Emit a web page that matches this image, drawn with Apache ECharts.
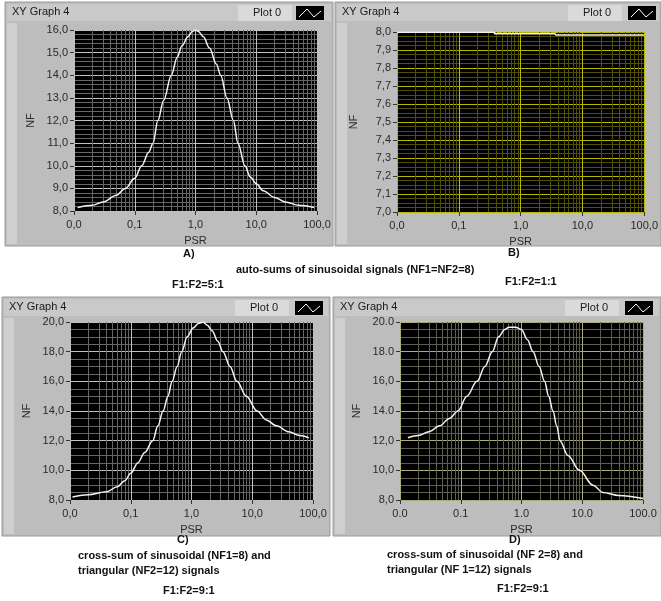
<!DOCTYPE html>
<html>
<head>
<meta charset="utf-8">
<script src="https://cdn.jsdelivr.net/npm/echarts@6/dist/echarts.min.js"></script>
<style>
  html, body { margin: 0; background: #fff; }
  #chart { width: 661px; height: 601px; }
</style>
</head>
<body>
<div id="chart"></div>
<script>
// ---- data ----
// A) auto-sum, F1:F2=5:1
const psrA = [0.0115, 0.02, 0.03, 0.05, 0.07, 0.1, 0.13, 0.17, 0.2, 0.24, 0.3, 0.4, 0.5, 0.6, 0.75, 0.9, 1.0, 1.1, 1.35, 1.7, 2.2, 2.6, 3.3, 4.2, 5.0, 6.5, 8.0, 10, 13, 20, 30, 50, 90]
const nfA = [8.15, 8.25, 8.4, 8.7, 9.0, 9.45, 10.0, 10.6, 11.0, 12.0, 12.9, 14.0, 14.8, 15.3, 15.7, 15.95, 16.0, 15.95, 15.7, 15.2, 14.5, 14.0, 13.0, 12.0, 11.0, 10.0, 9.5, 9.2, 8.9, 8.6, 8.4, 8.25, 8.15]
// B) auto-sum, F1:F2=1:1
const psrB = [0.01, 0.37, 0.38, 3.6, 3.7, 100]
const nfB = [7.998, 7.998, 7.99, 7.99, 7.984, 7.984]
// C) cross-sum, F1:F2=9:1
const psrC = [0.011, 0.02, 0.04, 0.06, 0.08, 0.1, 0.13, 0.17, 0.23, 0.28, 0.34, 0.41, 0.48, 0.58, 0.69, 0.85, 1.06, 1.3, 1.55, 1.8, 2.2, 2.7, 3.3, 4.3, 5.6, 8.0, 12, 17, 25, 40, 60, 85]
const nfC = [8.2, 8.35, 8.55, 8.9, 9.3, 9.8, 10.5, 11.2, 12.0, 13.0, 14.0, 15.0, 16.0, 17.0, 18.0, 19.0, 19.6, 19.9, 20.0, 19.8, 19.4, 18.7, 18.0, 17.0, 16.0, 15.0, 14.0, 13.4, 13.0, 12.6, 12.35, 12.2]
// D) cross-sum (swapped), F1:F2=9:1
const psrD = [0.0135, 0.02, 0.03, 0.045, 0.065, 0.09, 0.126, 0.185, 0.25, 0.33, 0.42, 0.53, 0.62, 0.8, 1.0, 1.25, 1.55, 1.95, 2.4, 2.8, 3.3, 3.8, 4.3, 5.8, 9, 15, 22, 40, 100]
const nfD = [12.2, 12.35, 12.6, 13.0, 13.5, 14.0, 15.0, 16.0, 17.0, 18.0, 19.0, 19.5, 19.65, 19.65, 19.5, 18.8, 18.0, 17.0, 16.0, 15.0, 14.0, 13.0, 12.0, 11.0, 10.0, 9.0, 8.5, 8.3, 8.1]

// tick labels
const xLabelsComma = ['0,0', '0,1', '1,0', '10,0', '100,0']
const xLabelsDot = ['0.0', '0.1', '1.0', '10.0', '100.0']
const yLabelsA = ['8,0', '9,0', '10,0', '11,0', '12,0', '13,0', '14,0', '15,0', '16,0']
const yLabelsB = ['7,0', '7,1', '7,2', '7,3', '7,4', '7,5', '7,6', '7,7', '7,8', '7,9', '8,0']
const yLabelsC = ['8,0', '10,0', '12,0', '14,0', '16,0', '18,0', '20,0']
const yLabelsD = ['8,0', '10,0', '12,0', '14.0', '16,0', '18.0', '20.0']

// log grid: 2..9 in every decade
const minorX = []
for (let e = -2; e < 2; e++) {
  for (let k = 2; k <= 9; k++) minorX.push(k * Math.pow(10, e))
}

const panels = [
  { psr: psrA, nf: nfA, xl: xLabelsComma, yl: yLabelsA, min: 8, max: 16, step: 1, minor: 5,
    grid: { left: 74, top: 30, width: 243, height: 181 }, major: '#c0c0c0', minorC: '#666666' },
  { psr: psrB, nf: nfB, xl: xLabelsComma, yl: yLabelsB, min: 7, max: 8, step: 0.1, minor: 4,
    grid: { left: 397, top: 32, width: 250, height: 180 }, major: '#b8b800', minorC: '#505000' },
  { psr: psrC, nf: nfC, xl: xLabelsComma, yl: yLabelsC, min: 8, max: 20, step: 2, minor: 4,
    grid: { left: 70, top: 322, width: 243, height: 178 }, major: '#c0c0c0', minorC: '#666666' },
  { psr: psrD, nf: nfD, xl: xLabelsDot, yl: yLabelsD, min: 8, max: 20, step: 2, minor: 4,
    grid: { left: 400, top: 322, width: 243, height: 178 }, major: '#adad7a', minorC: '#5e5e50' }
]

const labelFont = { color: '#2a2a2a', fontSize: 11, fontFamily: 'Liberation Sans' }

let grid = [], xAxis = [], yAxis = [], series = []
panels.forEach((p, i) => {
  grid.push({ ...p.grid, show: true, backgroundColor: '#000', borderWidth: 0 })
  xAxis.push({
    gridIndex: i,
    type: 'log',
    logBase: 10,
    min: 0.01,
    max: 100,
    splitNumber: 4,
    name: 'PSR',
    nameLocation: 'middle',
    nameGap: 24,
    nameTextStyle: { ...labelFont },
    axisLine: { show: false },
    axisTick: { show: true, length: 4, lineStyle: { color: '#333' } },
    axisLabel: { ...labelFont, margin: 8, formatter: (v) => p.xl[Math.round(Math.log10(v)) + 2] },
    splitLine: { show: true, lineStyle: { color: p.major, width: 1 } }
  })
  yAxis.push({
    gridIndex: i,
    type: 'value',
    min: p.min,
    max: p.max,
    interval: p.step,
    name: 'NF',
    nameLocation: 'middle',
    nameRotate: 90,
    nameGap: 38,
    nameTextStyle: { ...labelFont },
    axisLine: { show: false },
    axisTick: { show: true, length: 4, lineStyle: { color: '#333' } },
    axisLabel: { ...labelFont, margin: 6, formatter: (v) => p.yl[Math.round((v - p.min) / p.step)] },
    splitLine: { show: true, lineStyle: { color: p.major, width: 1 } },
    minorTick: { show: false, splitNumber: p.minor },
    minorSplitLine: { show: true, lineStyle: { color: p.minorC, width: 1 } }
  })
  // minor vertical log grid
  series.push({
    type: 'line',
    xAxisIndex: i,
    yAxisIndex: i,
    data: [],
    z: 1,
    silent: true,
    markLine: {
      silent: true,
      animation: false,
      symbol: ['none', 'none'],
      label: { show: false },
      lineStyle: { color: p.minorC, width: 1, type: 'solid' },
      data: minorX.map((v) => ({ xAxis: v }))
    }
  })
  series.push({
    type: 'line',
    xAxisIndex: i,
    yAxisIndex: i,
    z: 5,
    showSymbol: false,
    animation: false,
    smooth: 0.35,
    smoothMonotone: 'x',
    lineStyle: { color: '#f2f2f2', width: 1.5 },
    data: p.psr.map((x, k) => [x, p.nf[k]])
  })
})

// LabVIEW-like front panel decoration
const frames = [
  { x: 5, y: 2, w: 328, h: 244, plotX: 238, iconX: 296 },
  { x: 335, y: 2, w: 326, h: 244, plotX: 568, iconX: 628 },
  { x: 2, y: 297, w: 328, h: 239, plotX: 235, iconX: 295 },
  { x: 333, y: 297, w: 328, h: 239, plotX: 565, iconX: 625 }
]
const graphic = []
frames.forEach((f) => {
  graphic.push({ type: 'rect', z: -10, shape: { x: f.x, y: f.y, width: f.w, height: f.h }, style: { fill: '#bdbdbd', stroke: '#9a9a9a', lineWidth: 1 } })
  graphic.push({ type: 'rect', z: -9, shape: { x: f.x + 2, y: f.y + 21, width: 10, height: f.h - 23 }, style: { fill: '#cfcfcf' } })
  graphic.push({ type: 'rect', z: -9, shape: { x: f.x + 2, y: f.y + 2, width: f.w - 4, height: 17 }, style: { fill: '#c9c9c9' } })
  graphic.push({ type: 'text', z: -8, x: f.x + 7, y: f.y + 4, style: { text: 'XY Graph 4', fill: '#1a1a1a', font: '11px "Liberation Sans"' } })
  graphic.push({ type: 'rect', z: -8, shape: { x: f.plotX, y: f.y + 3, width: 54, height: 16 }, style: { fill: '#dadada' } })
  graphic.push({ type: 'text', z: -7, x: f.plotX + 15, y: f.y + 5, style: { text: 'Plot 0', fill: '#1a1a1a', font: '11px "Liberation Sans"' } })
  graphic.push({ type: 'rect', z: -8, shape: { x: f.iconX, y: f.y + 4, width: 28, height: 14 }, style: { fill: '#000' } })
  graphic.push({ type: 'polyline', z: -7, shape: { points: [[f.iconX + 3, f.y + 15], [f.iconX + 11, f.y + 7], [f.iconX + 18, f.y + 15], [f.iconX + 25, f.y + 9]] }, style: { stroke: '#fff', lineWidth: 1, fill: null } })
})

const captions = [
  ['A)', 183, 248],
  ['auto-sums of sinusoidal signals (NF1=NF2=8)', 236, 264],
  ['F1:F2=5:1', 172, 279],
  ['B)', 508, 247],
  ['F1:F2=1:1', 505, 276],
  ['C)', 177, 534],
  ['cross-sum of sinusoidal (NF1=8) and', 78, 550],
  ['triangular (NF2=12) signals', 78, 565],
  ['F1:F2=9:1', 163, 585],
  ['D)', 509, 534],
  ['cross-sum of sinusoidal (NF 2=8) and', 387, 549],
  ['triangular (NF 1=12) signals', 387, 564],
  ['F1:F2=9:1', 497, 583]
]
captions.forEach(([t, x, y]) => {
  graphic.push({ type: 'text', x: x, y: y, style: { text: t, fill: '#111', font: 'bold 11px "Liberation Sans"' } })
})

const myChart = echarts.init(document.getElementById('chart'))
myChart.setOption({
  backgroundColor: '#fff',
  animation: false,
  grid: grid,
  xAxis: xAxis,
  yAxis: yAxis,
  series: series,
  graphic: graphic
})
</script>
</body>
</html>
